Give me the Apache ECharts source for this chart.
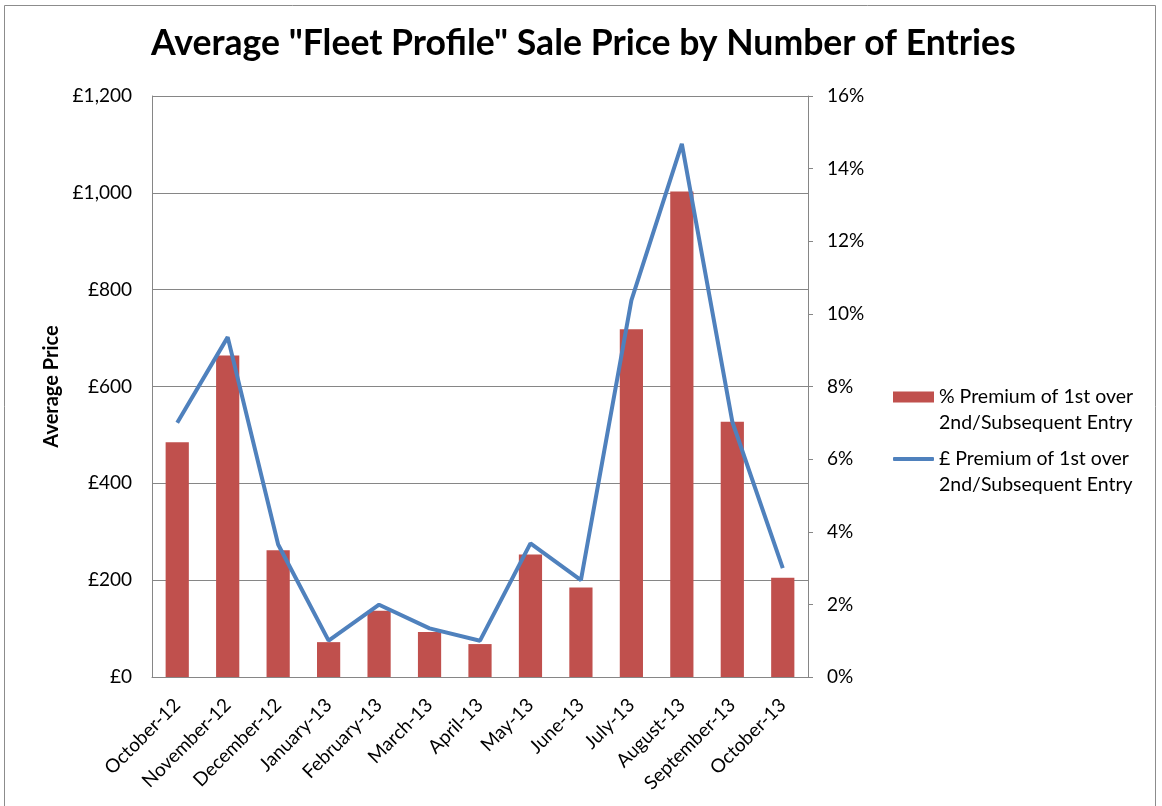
<!DOCTYPE html>
<html>
<head>
<meta charset="utf-8">
<script src="https://cdn.jsdelivr.net/npm/echarts@6/dist/echarts.min.js"></script>
<style>
html,body{margin:0;padding:0;background:#fff;}
#chart{width:1162px;height:806px;}
</style>
</head>
<body>
<div id="chart"></div>
<script>
var titleText = 'Average "Fleet Profile" Sale Price by Number of Entries';
var categories = ['October-12','November-12','December-12','January-13','February-13','March-13','April-13','May-13','June-13','July-13','August-13','September-13','October-13'];
var barName = '% Premium of 1st over 2nd/Subsequent Entry';
var lineName = '£ Premium of 1st over 2nd/Subsequent Entry';
var barValues = [485, 664, 262, 72, 137, 93, 68, 253, 185, 718, 1003, 527, 205];
var lineValues = [7.0, 9.36, 3.65, 1.0, 1.99, 1.34, 1.0, 3.68, 2.67, 10.37, 14.68, 7.03, 3.0];
var leftAxisName = 'Average Price';

var FONT = 'Lato';
var chart = echarts.init(document.getElementById('chart'), null, {renderer: 'canvas'});
function legendFmt(n){ return ' \n' + n.replace(' over ', ' over\n'); }
var legendText = {fontFamily: FONT, fontSize: 19.5, color: '#000', lineHeight: 26};
chart.setOption({
  animation: false,
  backgroundColor: '#fff',
  graphic: [{
    type: 'rect', silent: true,
    shape: {x: 4.5, y: 5.5, width: 1151, height: 830},
    style: {fill: 'none', stroke: '#8c8c8c', lineWidth: 1}
  }],
  title: {
    text: titleText, left: 146, top: 21,
    textStyle: {fontFamily: FONT, fontWeight: 'bold', fontSize: 35.6, color: '#000'}
  },
  legend: [{
    data: [barName], orient: 'vertical', left: 893, top: 358, padding: 0,
    itemWidth: 41, itemHeight: 11, icon: 'rect', formatter: legendFmt,
    itemGap: 0, textStyle: legendText
  }, {
    data: [lineName], orient: 'vertical', left: 893, top: 420, padding: 0,
    itemWidth: 41, itemHeight: 4, icon: 'roundRect', formatter: legendFmt,
    itemGap: 0, textStyle: legendText
  }],
  grid: {left: 152, right: 354, top: 96, bottom: 129, containLabel: false},
  xAxis: {
    type: 'category', data: categories,
    axisLine: {lineStyle: {color: '#868686', width: 1}},
    axisTick: {show: false},
    axisLabel: {rotate: 45, interval: 0, margin: 25, fontFamily: FONT, fontSize: 19, color: '#000'}
  },
  yAxis: [{
    type: 'value', min: 0, max: 1200, interval: 200, position: 'left',
    name: leftAxisName, nameLocation: 'middle', nameGap: 88, nameRotate: 90,
    nameTextStyle: {fontFamily: FONT, fontWeight: 'bold', fontSize: 20, color: '#000'},
    axisLine: {show: true, lineStyle: {color: '#868686'}},
    axisTick: {show: false},
    splitLine: {show: true, lineStyle: {color: '#868686', width: 1}},
    axisLabel: {margin: 20, fontFamily: FONT, fontSize: 19, color: '#000',
      formatter: function(v){ return '£' + v.toLocaleString('en-GB'); }}
  }, {
    type: 'value', min: 0, max: 16, interval: 2, position: 'right',
    axisLine: {show: true, lineStyle: {color: '#868686'}},
    axisTick: {show: true, length: 5, lineStyle: {color: '#868686'}},
    splitLine: {show: false},
    axisLabel: {margin: 19, fontFamily: FONT, fontSize: 19, color: '#000', formatter: '{value}%'}
  }],
  series: [{
    name: barName, type: 'bar', yAxisIndex: 0, data: barValues,
    barWidth: '46%', itemStyle: {color: '#C0504D'}
  }, {
    name: lineName, type: 'line', yAxisIndex: 1, data: lineValues,
    symbol: 'none', lineStyle: {color: '#4F81BD', width: 4}, itemStyle: {color: '#4F81BD'},
    z: 3
  }]
});
</script>
</body>
</html>
